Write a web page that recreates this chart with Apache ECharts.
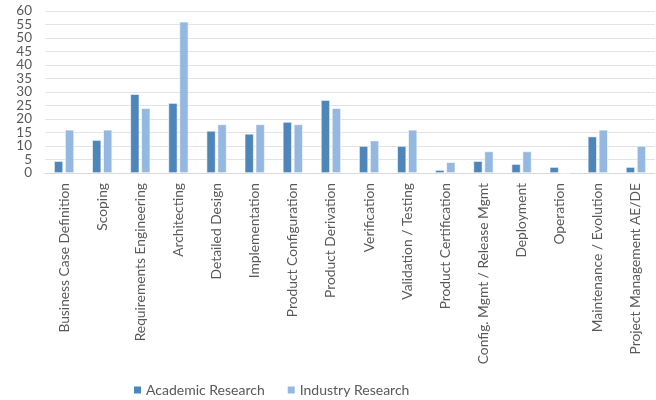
<!DOCTYPE html>
<html>
<head>
<meta charset="utf-8">
<script src="https://cdn.jsdelivr.net/npm/echarts@6/dist/echarts.min.js"></script>
<style>
  html, body { margin: 0; padding: 0; background: #ffffff; }
  #chart { width: 656px; height: 400px; }
</style>
</head>
<body>
<div id="chart"></div>
<script>
// Lifecycle phases covered by the research
const categories = [
  'Business Case Definition', 'Scoping', 'Requirements Engineering', 'Architecting',
  'Detailed Design', 'Implementation', 'Product Configuration', 'Product Derivation',
  'Verification', 'Validation / Testing', 'Product Certification',
  'Config. Mgmt / Release Mgmt', 'Deployment', 'Operation',
  'Maintenance / Evolution', 'Project Management AE/DE'
];

const academicResearch = [4.4, 12.2, 29.2, 25.9, 15.6, 14.5, 18.9, 27, 10, 10, 1.1, 4.4, 3.3, 2.2, 13.5, 2.2];
const industryResearch = [16, 16, 24, 56, 18, 18, 18, 24, 12, 16, 4, 8, 8, 0, 16, 10];

const seriesNames = ['Academic Research', 'Industry Research'];
const yTicks = { min: 0, max: 60, interval: 5 };

const FONT = 'Lato, "Open Sans", sans-serif';
const TEXT = '#595959';

const yLabelStyle = {
  margin: 13,
  fontFamily: FONT,
  fontSize: 13.5,
  color: TEXT
};

const chart = echarts.init(document.getElementById('chart'), null, { renderer: 'canvas' });

chart.setOption({
  animation: false,
  backgroundColor: '#ffffff',
  grid: { left: 45, right: 1, top: 11, bottom: 227, containLabel: false },
  legend: {
    top: 378,
    left: 127,
    itemWidth: 9,
    itemHeight: 9,
    itemGap: 21,
    icon: 'rect',
    textStyle: { fontFamily: FONT, fontSize: 14, color: TEXT, padding: [0, 0, 0, -1] },
    data: seriesNames
  },
  xAxis: {
    type: 'category',
    data: categories,
    axisLine: { lineStyle: { color: '#d9d9d9', width: 1 } },
    axisTick: { show: false },
    axisLabel: {
      rotate: 90,
      interval: 0,
      margin: 10,
      fontFamily: FONT,
      fontSize: 13.8,
      color: TEXT
    }
  },
  yAxis: [
    {
      // inner ticks 5..55 with gridlines
      type: 'value',
      position: 'left',
      min: yTicks.min,
      max: yTicks.max,
      interval: yTicks.interval,
      axisLine: { show: false },
      axisTick: { show: false },
      splitLine: { lineStyle: { color: '#e3e3e3', width: 1 } },
      axisLabel: Object.assign({ showMinLabel: false, showMaxLabel: false }, yLabelStyle)
    },
    {
      // end ticks 0 and 60
      type: 'value',
      position: 'left',
      offset: 0,
      min: yTicks.min,
      max: yTicks.max,
      interval: yTicks.max - yTicks.min,
      axisLine: { show: false },
      axisTick: { show: false },
      splitLine: { show: false },
      axisLabel: Object.assign({ showMinLabel: true, showMaxLabel: true }, yLabelStyle)
    }
  ],
  series: [
    {
      name: seriesNames[0],
      type: 'bar',
      data: academicResearch,
      barWidth: 9,
      barGap: '22%',
      itemStyle: { color: '#4f86ba', borderColor: '#ffffff', borderWidth: 0.6 }
    },
    {
      name: seriesNames[1],
      type: 'bar',
      data: industryResearch,
      barWidth: 9,
      barGap: '22%',
      itemStyle: { color: '#95b8e0', borderColor: '#ffffff', borderWidth: 0.6 }
    }
  ]
});
</script>
</body>
</html>
